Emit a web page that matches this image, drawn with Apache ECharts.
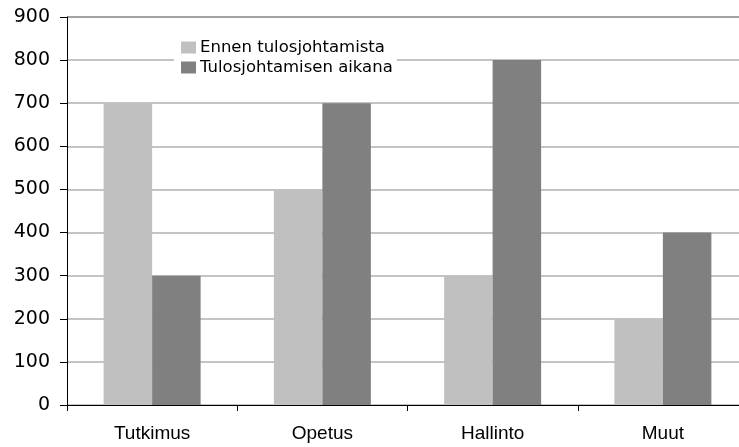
<!DOCTYPE html>
<html><head><meta charset="utf-8">
<script src="https://cdn.jsdelivr.net/npm/echarts@6/dist/echarts.min.js"></script>
<style>html,body{margin:0;padding:0;background:#fff;overflow:hidden;width:739px;height:447px}#c{width:749px;height:447px}</style>
</head><body><div id="c"></div>
<script>
const categories = ["Tutkimus", "Opetus", "Hallinto", "Muut"];
const seriesNames = ["Ennen tulosjohtamista", "Tulosjohtamisen aikana"];
const before = [700, 500, 300, 200];
const during = [300, 700, 800, 400];
const yTicks = { min: 0, max: 900, interval: 100 };

const gridColors = [];
for (let v = yTicks.min; v <= yTicks.max; v += yTicks.interval) gridColors.push(v === yTicks.max ? '#a3a3a3' : '#c4c4c4');

const chart = echarts.init(document.getElementById('c'), null, { renderer: 'canvas' });
chart.setOption({
  animation: false,
  backgroundColor: '#fff',
  color: ['#c0c0c0', '#808080'],
  grid: { left: 67, right: 1, top: 17, bottom: 42, containLabel: false },
  legend: {
    orient: 'vertical', left: 174, top: 36,
    itemWidth: 15, itemHeight: 12, itemGap: 3,
    backgroundColor: '#fff', padding: [3, 4, 3, 7],
    icon: 'rect',
    textStyle: { fontFamily: 'DejaVu Sans', fontSize: 16.5, color: '#000', padding: [0, 0, 0, -1] },
    data: seriesNames
  },
  xAxis: {
    type: 'category', data: categories,
    axisLine: { lineStyle: { color: '#000', width: 1 } },
    axisTick: { show: true, length: 6, inside: false, lineStyle: { color: '#000' } },
    axisLabel: { margin: 19, fontFamily: 'Liberation Sans', fontSize: 19, color: '#000' },
    splitLine: { show: false }
  },
  yAxis: {
    type: 'value', min: yTicks.min, max: yTicks.max, interval: yTicks.interval,
    axisLine: { show: true, lineStyle: { color: '#000', width: 1 } },
    axisTick: { show: true, length: 7, lineStyle: { color: '#000' } },
    axisLabel: { margin: 17, fontFamily: 'DejaVu Sans', fontSize: 19, color: '#000' },
    splitLine: { show: true, lineStyle: { color: gridColors, width: 2 } }
  },
  series: [
    { name: seriesNames[0], type: 'bar', data: before, barWidth: 48.5, barGap: '0%' },
    { name: seriesNames[1], type: 'bar', data: during, barWidth: 48.5, barGap: '0%' }
  ]
});
</script></body></html>
